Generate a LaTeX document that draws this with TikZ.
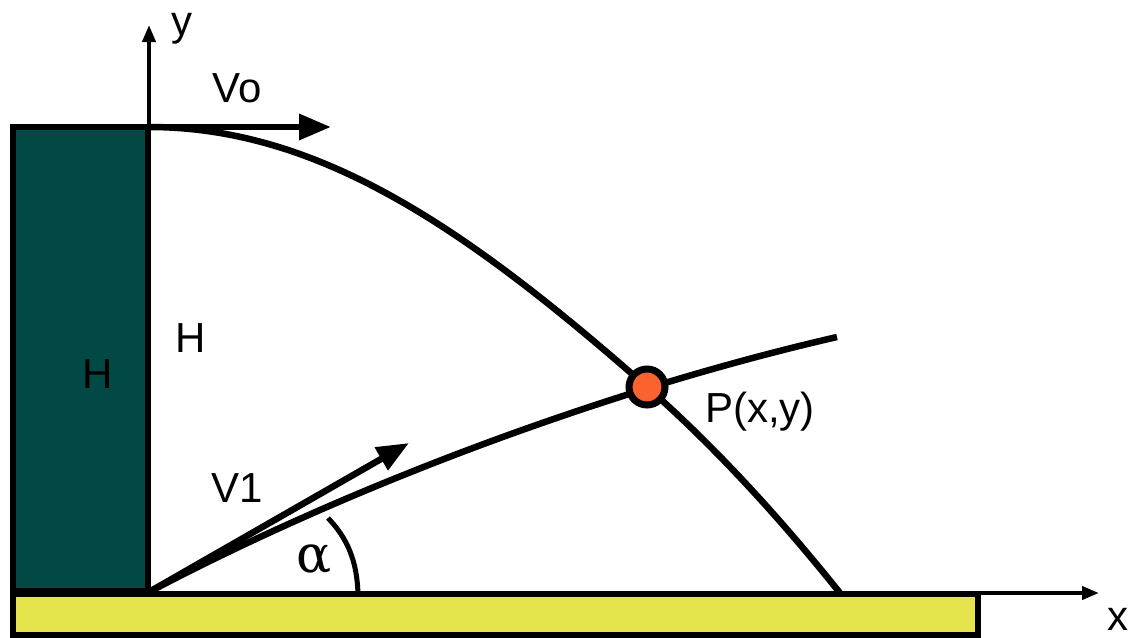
\documentclass[tikz,border=0pt]{standalone}
\usepackage{fontspec}
\setmainfont{Liberation Sans}
\newfontfamily\greekserif{DejaVu Serif}
\usetikzlibrary{arrows.meta}
\definecolor{wallteal}{RGB}{2,73,70}
\definecolor{groundyellow}{RGB}{230,228,76}
\definecolor{porange}{RGB}{250,98,48}
\begin{document}
\begin{tikzpicture}[x=1pt,y=-1pt,
  lbl/.style={font=\fontsize{42}{50}\selectfont, inner sep=0pt, anchor=base},
  border/.style={line width=6.5pt, line join=miter},
  axis/.style={line width=4pt, -{Triangle[length=17pt,width=13pt]}},
  vec/.style={line width=6.5pt, -{Triangle[length=32pt,width=25pt]}},
  curve/.style={line width=6.5pt, line cap=butt, line join=round}]
\useasboundingbox (0,0) rectangle (1131,637);
% ground and wall
\draw[border, fill=groundyellow] (13,594) rectangle (978,635);
\draw[border, fill=wallteal] (13,127) rectangle (148,591);
% key points
\coordinate (O) at (149,592);
\coordinate (T) at (149,127);
\coordinate (ytip) at (149,25);
\coordinate (xstart) at (978,593);
\coordinate (xtip) at (1099,593);
\coordinate (votip) at (331,127);
\coordinate (v1tip) at (409,443);
\coordinate (L) at (840,593);
\coordinate (E) at (837,337);
\coordinate (Pc) at (647,387);
\coordinate (arcA) at (358,594);
\coordinate (arcB) at (328,518);
% axes
\draw[axis] (T) -- (ytip);
\draw[axis] (xstart) -- (xtip);
% angle line
\draw[curve] (O) .. controls (350,486) and (607,389.9) .. (E);
% trajectory
\draw[curve] (T) .. controls (319,127) and (467,228.6) .. (Pc)
                 .. controls (711,443.3) and (776,513) .. (L);
% vectors
\draw[vec] (T) -- (votip);
\draw[vec] (O) -- (v1tip);
% alpha arc
\draw[line width=5pt] (arcA) .. controls (357,560) and (347,538) .. (arcB);
% point P
\node[circle, draw=black, line width=7pt, fill=porange, minimum size=36pt, inner sep=0pt] (P) at (Pc) {};
% labels
\node[lbl] (ylbl) at (182,35) {y};
\node[lbl] (xlbl) at (1118,630) {x};
\node[lbl] (vo) at (237,102) {Vo};
\node[lbl] (hwall) at (97.5,388) {H};
\node[lbl] (hside) at (191,352) {H};
\node[lbl] (v1) at (237.5,502) {V1};
\node[lbl] (plbl) at (760,422) {P(x,y)};
\node[inner sep=0pt, anchor=base, font=\greekserif\fontsize{52}{52}\selectfont] (alpha) at (314,572) {α};
\end{tikzpicture}
\end{document}
